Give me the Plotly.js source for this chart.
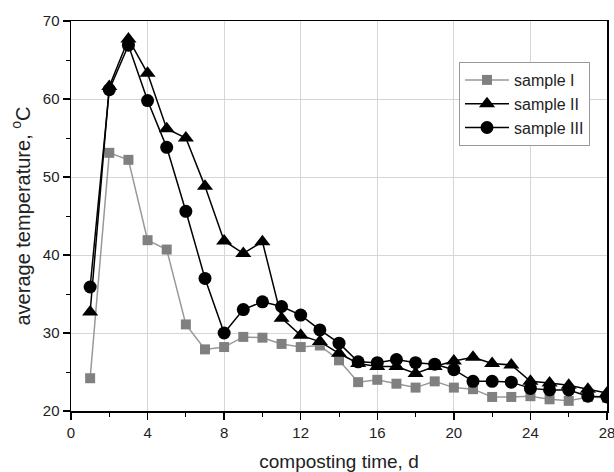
<!DOCTYPE html>
<html><head><meta charset="utf-8">
<script src="https://cdn.plot.ly/plotly-3.0.1.min.js"></script>
<style>html,body{margin:0;padding:0;background:#fff}#chart{width:614px;height:472px}</style>
</head><body><div id="chart"></div>
<script>
const days = [1,2,3,4,5,6,7,8,9,10,11,12,13,14,15,16,17,18,19,20,21,22,23,24,25,26,27,28];
const sampleI = [24.2,53.1,52.2,41.9,40.7,31.1,27.9,28.2,29.5,29.4,28.6,28.2,28.4,26.5,23.7,24.0,23.5,23.0,23.8,23.0,22.8,21.8,21.8,21.9,21.5,21.3,21.8,21.7];
const sampleII = [32.7,61.6,67.7,63.3,56.2,55.0,48.8,41.8,40.2,41.7,31.9,29.7,28.9,27.4,26.1,25.7,25.7,24.8,25.7,26.4,26.9,26.1,25.9,23.8,23.6,23.3,22.8,22.3];
const sampleIII = [35.9,61.2,66.9,59.8,53.8,45.6,37.0,30.0,33.0,34.0,33.4,32.3,30.4,28.7,26.3,26.2,26.6,26.2,26.0,25.3,23.8,23.8,23.7,22.9,22.7,22.7,21.9,21.8];
const names = ['sample I','sample II','sample III'];
const xTicks = [0,4,8,12,16,20,24,28];
const yTicks = [20,30,40,50,60,70];

const traces = [
  {x: days, y: sampleI, name: names[0], mode: 'lines+markers',
   line: {color: '#999999', width: 1.5},
   marker: {symbol: 'square', size: 10, color: '#808080'}},
  {x: days, y: sampleII, name: names[1], mode: 'lines+markers',
   line: {color: '#000', width: 1.5},
   marker: {symbol: 'triangle-up', size: 14, color: '#000'}},
  {x: days, y: sampleIII, name: names[2], mode: 'lines+markers',
   line: {color: '#000', width: 1.5},
   marker: {symbol: 'circle', size: 13, color: '#000'}}
];

const layout = {
  width: 614, height: 472,
  margin: {l: 71, r: 7, t: 21, b: 61},
  paper_bgcolor: '#fff', plot_bgcolor: '#fff',
  font: {family: 'Liberation Sans, Arial, sans-serif', color: '#222'},
  showlegend: true,
  legend: {x: (459-71)/536, y: (411-62)/390, xanchor: 'left', yanchor: 'top',
    bordercolor: '#999', borderwidth: 1, bgcolor: '#fff', itemwidth: 44,
    font: {size: 16, color: '#222'}, tracegroupgap: 0},
  xaxis: {range: [0, 28], tickvals: xTicks,
    showgrid: true, gridcolor: '#d6d6d6', gridwidth: 1,
    showline: true, linecolor: '#000', linewidth: 1.5, mirror: true,
    ticks: 'outside', ticklen: 7, tickcolor: '#000', tickwidth: 1.5,
    ticklabeloverflow: 'allow',
    minor: {dtick: 2, tick0: 0, ticks: 'outside', ticklen: 4, tickcolor: '#000', tickwidth: 1, showgrid: false},
    zeroline: false, tickfont: {size: 15, color: '#222'},
    title: {text: 'composting time, d', font: {size: 19, color: '#222'}, standoff: 15}},
  yaxis: {range: [20, 70], tickvals: yTicks,
    showgrid: true, gridcolor: '#d6d6d6', gridwidth: 1,
    showline: true, linecolor: '#000', linewidth: 1.5, mirror: true,
    ticks: 'outside', ticklen: 7, tickcolor: '#000', tickwidth: 1.5,
    ticklabeloverflow: 'allow',
    minor: {dtick: 5, tick0: 0, ticks: 'outside', ticklen: 4, tickcolor: '#000', tickwidth: 1, showgrid: false},
    zeroline: false, tickfont: {size: 15, color: '#222'},
    title: {text: 'average temperature, <sup>o</sup>C', font: {size: 20, color: '#222'}, standoff: 7}}
};

Plotly.newPlot('chart', traces, layout, {displayModeBar: false, staticPlot: true});
</script></body></html>
